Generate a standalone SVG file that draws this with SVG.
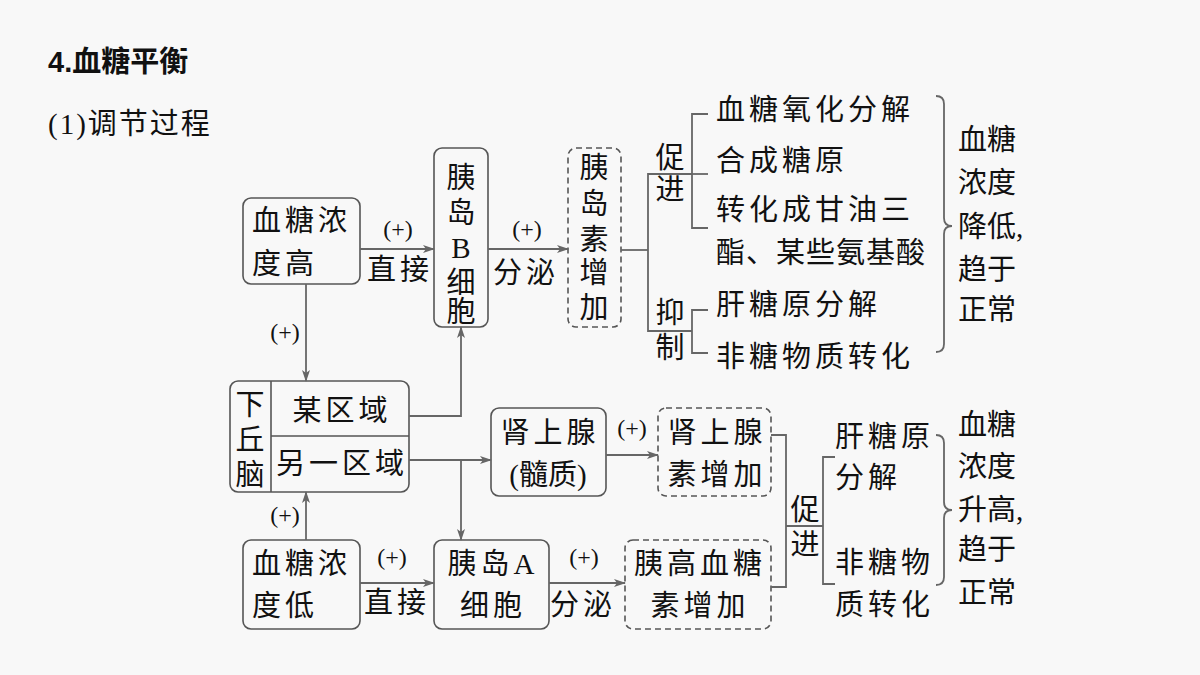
<svg xmlns="http://www.w3.org/2000/svg" width="1200" height="675" viewBox="0 0 1200 675">
<defs>
<marker id="ar" markerWidth="12" markerHeight="8" refX="11" refY="4" orient="auto" markerUnits="userSpaceOnUse"><path d="M0,0 L12,4 L0,8 L3,4 Z" fill="#666"/></marker>
<style>
text{font-family:"Liberation Serif","Noto Sans CJK SC",serif;fill:#111;font-size:29px;letter-spacing:4px}
.s{font-size:24px;letter-spacing:0}
.t{letter-spacing:0}
.b{fill:none;stroke:#555;stroke-width:1.6}
.d{fill:none;stroke:#555;stroke-width:1.6;stroke-dasharray:6 4}
.l{fill:none;stroke:#666;stroke-width:1.8}
.c{text-anchor:middle}
</style>
</defs>
<rect width="1200" height="675" fill="#f8f8f8"/>
<text class="t" x="48" y="72" style="font-weight:bold;font-family:'Liberation Sans','Noto Sans CJK SC',sans-serif">4.血糖平衡</text>
<text x="48" y="134" style="letter-spacing:2px">(1)调节过程</text>

<g id="high"><rect class="b" x="243" y="198" width="117" height="86" rx="8"/><text x="252" y="231">血糖浓</text><text x="252" y="274">度高</text></g>
<g id="betacell"><rect class="b" x="434" y="148" width="54" height="179" rx="8"/><text class="c t" x="461" y="188">胰</text><text class="c t" x="461" y="223">岛</text><text class="c t" x="461" y="258">B</text><text class="c t" x="461" y="293">细</text><text class="c t" x="461" y="322">胞</text></g>
<g id="insulin"><rect class="d" x="568" y="148" width="53" height="179" rx="8"/><text class="c t" x="594" y="178">胰</text><text class="c t" x="594" y="214">岛</text><text class="c t" x="594" y="250">素</text><text class="c t" x="594" y="283">增</text><text class="c t" x="594" y="318">加</text></g>
<g id="hypo"><rect class="b" x="230" y="381" width="179" height="111" rx="8"/><line class="b" x1="271" y1="381" x2="271" y2="492"/><line class="b" x1="271" y1="436" x2="409" y2="436"/><text class="c t" x="250" y="415">下</text><text class="c t" x="250" y="450">丘</text><text class="c t" x="250" y="485">脑</text><text class="c" x="342" y="421">某区域</text><text class="c" x="342" y="474">另一区域</text></g>
<g id="adrenal"><rect class="b" x="491" y="408" width="115" height="88" rx="8"/><text class="c" x="550" y="443">肾上腺</text><text class="c t" x="548" y="485">(髓质)</text></g>
<g id="epi"><rect class="d" x="658" y="408" width="113" height="88" rx="8"/><text class="c" x="717" y="443">肾上腺</text><text class="c" x="717" y="485">素增加</text></g>
<g id="low"><rect class="b" x="243" y="540" width="117" height="89" rx="8"/><text x="252" y="574">血糖浓</text><text x="252" y="616">度低</text></g>
<g id="alphacell"><rect class="b" x="434" y="540" width="115" height="89" rx="8"/><text class="c" x="493" y="574">胰岛A</text><text class="c" x="493" y="616">细胞</text></g>
<g id="glucagon"><rect class="d" x="625" y="540" width="146" height="89" rx="8"/><text class="c" x="700" y="574">胰高血糖</text><text class="c" x="700" y="616">素增加</text></g>

<g id="connectors">
<line class="l" x1="360" y1="249" x2="434" y2="249" marker-end="url(#ar)"/>
<line class="l" x1="488" y1="249" x2="568" y2="249" marker-end="url(#ar)"/>
<line class="l" x1="306" y1="284" x2="306" y2="381" marker-end="url(#ar)"/>
<line class="l" x1="306" y1="540" x2="306" y2="492" marker-end="url(#ar)"/>
<polyline class="l" points="409,416 461,416 461,327" marker-end="url(#ar)"/>
<line class="l" x1="409" y1="460" x2="491" y2="460" marker-end="url(#ar)"/>
<line class="l" x1="461" y1="460" x2="461" y2="540" marker-end="url(#ar)"/>
<line class="l" x1="360" y1="583" x2="434" y2="583" marker-end="url(#ar)"/>
<line class="l" x1="549" y1="583" x2="625" y2="583" marker-end="url(#ar)"/>
<line class="l" x1="606" y1="455" x2="658" y2="455" marker-end="url(#ar)"/>
<polyline class="l" points="621,250 648,250"/>
<polyline class="l" points="692,174 648,174 648,331 692,331"/>
<polyline class="l" points="708,114 692,114 692,228 708,228"/>
<line class="l" x1="692" y1="174" x2="708" y2="174"/>
<polyline class="l" points="708,310 692,310 692,353 708,353"/>
<polyline class="l" points="771,435 786,435 786,587 771,587"/>
<line class="l" x1="786" y1="526" x2="823" y2="526"/>
<polyline class="l" points="835,457 823,457 823,584 835,584"/>
<path class="l" d="M936,96 Q944,96 944,104 L944,218 Q944,226 952,226 Q944,226 944,234 L944,344 Q944,352 936,352"/>
<path class="l" d="M936,435 Q944,435 944,443 L944,502 Q944,510 952,510 Q944,510 944,518 L944,577 Q944,585 936,585"/>
</g>

<g id="labels">
<text class="c s" x="398" y="237">(+)</text><text class="c" x="400" y="280">直接</text>
<text class="c s" x="527" y="237">(+)</text><text class="c" x="526" y="283">分泌</text>
<text class="c s" x="285" y="340">(+)</text>
<text class="c s" x="285" y="523">(+)</text>
<text class="c s" x="392" y="565">(+)</text><text class="c" x="397" y="613">直接</text>
<text class="c s" x="584" y="565">(+)</text><text class="c" x="583" y="615">分泌</text>
<text class="c s" x="632" y="436">(+)</text>
<text class="c t" x="670" y="168">促</text><text class="c t" x="670" y="200">进</text>
<text class="c t" x="670" y="323">抑</text><text class="c t" x="670" y="358">制</text>
<text x="716" y="120">血糖氧化分解</text>
<text x="716" y="171">合成糖原</text>
<text x="716" y="220">转化成甘油三</text>
<text x="716" y="263" style="letter-spacing:1px">酯、某些氨基酸</text>
<text x="716" y="315">肝糖原分解</text>
<text x="716" y="367">非糖物质转化</text>
<text class="t" x="958" y="150">血糖</text><text class="t" x="958" y="193">浓度</text><text class="t" x="958" y="237">降低,</text><text class="t" x="958" y="280">趋于</text><text class="t" x="958" y="320">正常</text>
<text class="c t" x="805" y="520">促</text><text class="c t" x="805" y="555">进</text>
<text x="835" y="447">肝糖原</text><text x="835" y="488">分解</text>
<text x="835" y="573">非糖物</text><text x="835" y="615">质转化</text>
<text class="t" x="958" y="435">血糖</text><text class="t" x="958" y="477">浓度</text><text class="t" x="958" y="520">升高,</text><text class="t" x="958" y="560">趋于</text><text class="t" x="958" y="603">正常</text>
</g>
</svg>
